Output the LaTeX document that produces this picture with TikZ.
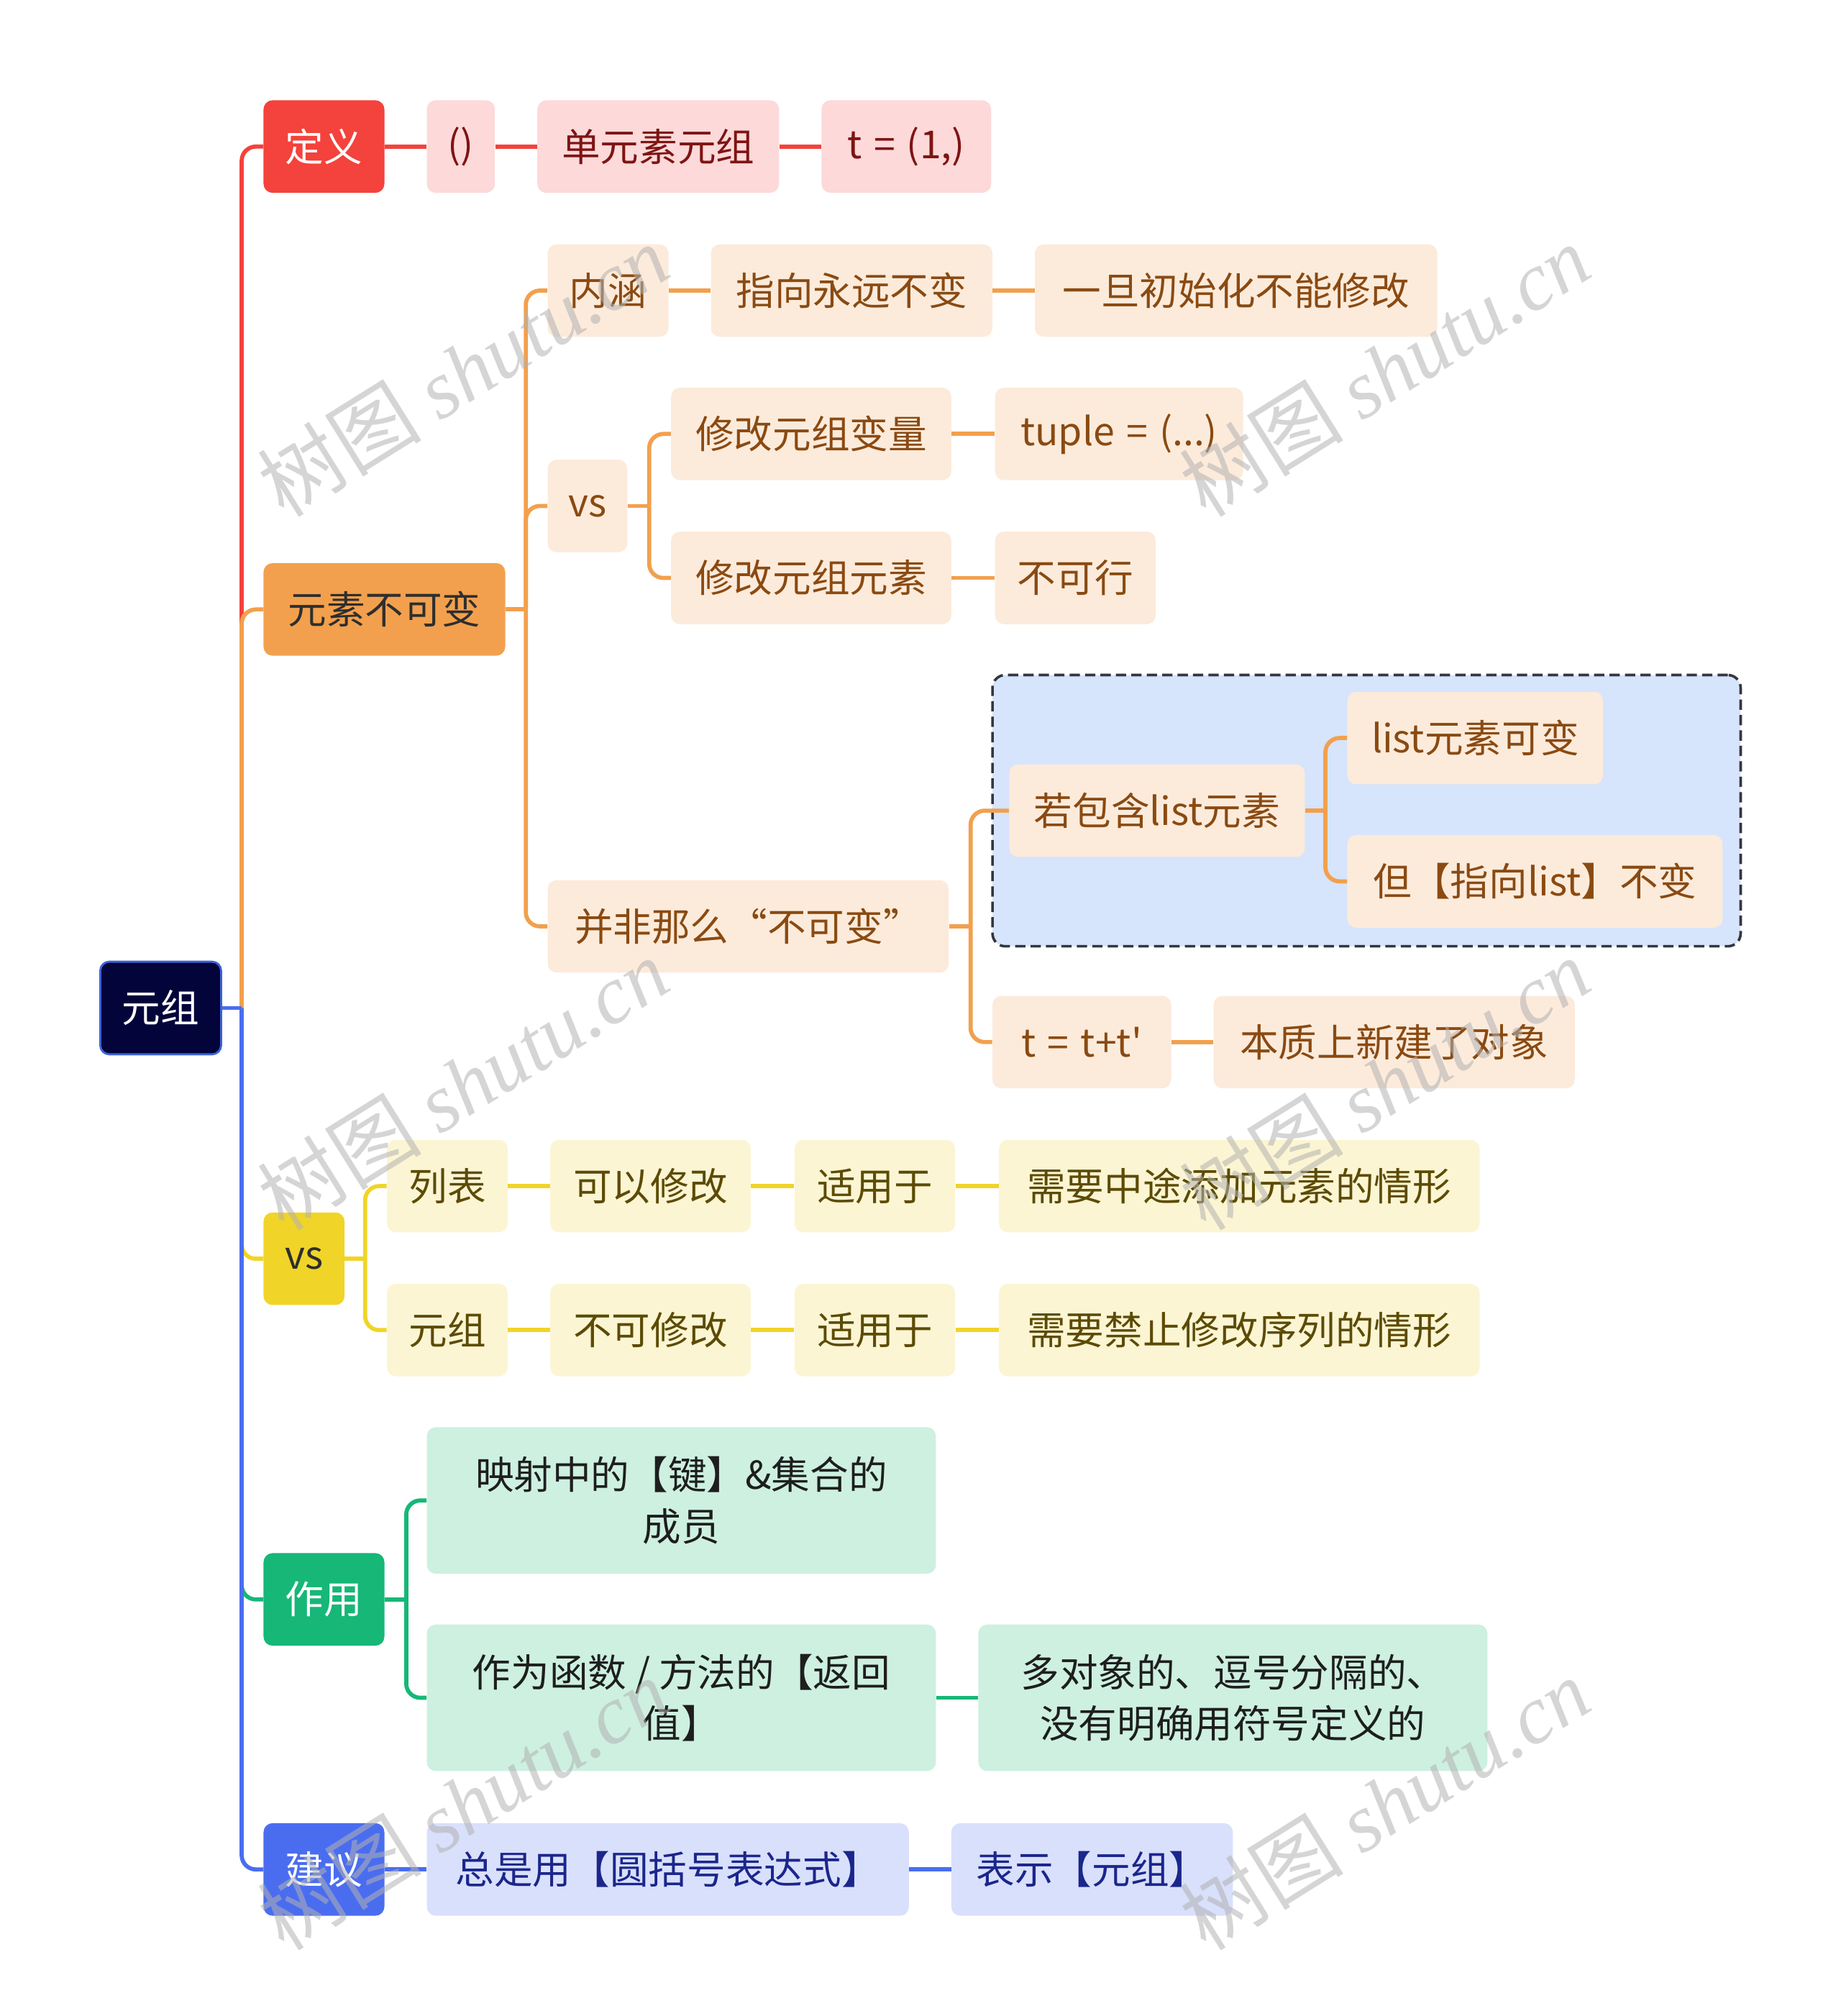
\documentclass[tikz,border=0pt]{standalone}
\usepackage{fontspec}
\setmainfont{Noto Sans CJK SC}
\newfontfamily\wmlatin{Liberation Serif}
\usetikzlibrary{positioning}
\definecolor{rootfill}{HTML}{03043A}
\definecolor{rootline}{HTML}{3C62D8}
\definecolor{cred}{HTML}{F4423C}
\definecolor{credl}{HTML}{FDD9D9}
\definecolor{credt}{HTML}{7E1414}
\definecolor{corg}{HTML}{F2A04D}
\definecolor{corgl}{HTML}{FCEBDB}
\definecolor{corgt}{HTML}{8A4A12}
\definecolor{cylw}{HTML}{F1D428}
\definecolor{cylwl}{HTML}{FCF5D3}
\definecolor{cylwt}{HTML}{5C4B05}
\definecolor{cgrn}{HTML}{16B777}
\definecolor{cgrnl}{HTML}{CDF0E1}
\definecolor{cgrnt}{HTML}{1E1E1E}
\definecolor{cblu}{HTML}{4A6DF0}
\definecolor{cblul}{HTML}{D9E0FB}
\definecolor{cblut}{HTML}{1B268C}
\definecolor{grpfill}{HTML}{D6E4FC}
\definecolor{grpline}{HTML}{33363C}
\definecolor{darktext}{HTML}{2E2E2E}
\begin{document}
\begin{tikzpicture}[
    x=1pt, y=-1pt,
    font=\fontsize{30}{40}\selectfont,
    base/.style={rectangle, rounded corners=7pt, minimum height=72pt, inner sep=0pt, align=center},
    rootbox/.style={base, fill=rootfill, draw=rootline, line width=1.6pt, text=white},
    redmain/.style={base, fill=cred, text=white},
    redsub/.style={base, fill=credl, text=credt},
    orgmain/.style={base, fill=corg, text=darktext},
    orgsub/.style={base, fill=corgl, text=corgt},
    ylwmain/.style={base, fill=cylw, text=darktext},
    ylwsub/.style={base, fill=cylwl, text=cylwt},
    grnmain/.style={base, fill=cgrn, text=white},
    grnsub/.style={base, fill=cgrnl, text=cgrnt, minimum height=114pt},
    blumain/.style={base, fill=cblu, text=white},
    blusub/.style={base, fill=cblul, text=cblut},
    groupbox/.style={rectangle, rounded corners=10pt, fill=grpfill, draw=grpline, line width=2pt, dash pattern=on 8pt off 4pt},
    link/.style={line width=3.2pt},
    branch/.style={line width=3.2pt, rounded corners=11pt},
    watermark/.style={rotate=32, text=gray!60, opacity=0.55, font=\fontsize{64}{64}\selectfont},
]
\useasboundingbox (0,0) rectangle (1432,1568);

% Dashed group (behind its nodes)
\node[groupbox, minimum width=582pt, minimum height=211pt] (grp) at (1063,630.5) {};

% Root
\node[rootbox, minimum width=94pt] (root) at (125,784) {元组};

% Main branches
\node[redmain, minimum width=94pt] (def) at (252,114) {定义};
\node[orgmain, minimum width=188pt] (imm) at (299,474) {元素不可变};
\node[ylwmain, minimum width=63pt] (vsa) at (236.5,979) {vs};
\node[grnmain, minimum width=94pt] (use) at (252,1244) {作用};
\node[blumain, minimum width=94pt] (adv) at (252,1454) {建议};

% Definition
\node[redsub, minimum width=53pt] (paren) at (358.5,114) {()};
\node[redsub, minimum width=188pt] (single) at (512,114) {单元素元组};
\node[redsub, minimum width=132pt] (tone) at (705,114) {t\hspace{9pt}=\hspace{9pt}(1,)};

% Immutable elements
\node[orgsub, minimum width=94pt] (nh) at (473,226) {内涵};
\node[orgsub, minimum width=219pt] (zxbb) at (662.5,226) {指向永远不变};
\node[orgsub, minimum width=313pt] (ydcsh) at (961.5,226) {一旦初始化不能修改};
\node[orgsub, minimum width=62pt] (vsb) at (457,393.5) {vs};
\node[orgsub, minimum width=218pt] (xgbl) at (631,337.5) {修改元组变量};
\node[orgsub, minimum width=193pt] (tplv) at (870.5,337.5) {tuple\hspace{9pt}=\hspace{9pt}(...)};
\node[orgsub, minimum width=218pt] (xgys) at (631,449.5) {修改元组元素};
\node[orgsub, minimum width=125pt] (bkx) at (836.5,449.5) {不可行};
\node[orgsub, minimum width=312pt] (bfnm) at (582,720.5) {并非那么“不可变”};
\node[orgsub, minimum width=230pt] (rbh) at (900,630.5) {若包含list元素};
\node[orgsub, minimum width=199pt] (lkb) at (1147.5,574) {list元素可变};
\node[orgsub, minimum width=292pt] (dzl) at (1194,685.5) {但【指向list】不变};
\node[orgsub, minimum width=139pt] (ttt) at (841.5,810.5) {t\hspace{9pt}=\hspace{9pt}t+t\textquotesingle};
\node[orgsub, minimum width=281pt] (bzs) at (1084.5,810.5) {本质上新建了对象};

% List vs tuple
\node[ylwsub, minimum width=94pt] (lb) at (348,922.5) {列表};
\node[ylwsub, minimum width=156pt] (kyxg) at (506,922.5) {可以修改};
\node[ylwsub, minimum width=125pt] (syya) at (680.5,922.5) {适用于};
\node[ylwsub, minimum width=374pt] (xyzt) at (964,922.5) {需要中途添加元素的情形};
\node[ylwsub, minimum width=94pt] (yz) at (348,1034.5) {元组};
\node[ylwsub, minimum width=156pt] (bkxg) at (506,1034.5) {不可修改};
\node[ylwsub, minimum width=125pt] (syyb) at (680.5,1034.5) {适用于};
\node[ylwsub, minimum width=374pt] (xyjz) at (964,1034.5) {需要禁止修改序列的情形};

% Usage
\node[grnsub, minimum width=396pt] (ysz) at (530,1167) {映射中的【键】\&集合的\\成员};
\node[grnsub, minimum width=396pt] (zwhs) at (530,1320.5) {作为函数 / 方法的【返回\\值】};
\node[grnsub, minimum width=396pt] (ddx) at (959,1320.5) {多对象的、逗号分隔的、\\没有明确用符号定义的};

% Advice
\node[blusub, minimum width=375pt] (zsy) at (519.5,1454) {总是用【圆括号表达式】};
\node[blusub, minimum width=219pt] (bsyz) at (849.5,1454) {表示【元组】};

% Junctions
\coordinate (j0) at (188,784);
\coordinate (j1) at (409,474);
\coordinate (j2) at (505,393.5);
\coordinate (j3) at (755,720.5);
\coordinate (j4) at (1031,630.5);
\coordinate (j5) at (284,979);
\coordinate (j6) at (316,1244);

% Root branches
\draw[branch, cred] (j0) |- (def.west);
\draw[branch, corg] (j0) |- (imm.west);
\draw[branch, cylw] (j0) |- (vsa.west);
\draw[branch, cgrn] (j0) |- (use.west);
\draw[branch, cblu] (j0) |- (adv.west);
\draw[link, cblu] (root.east) -- (j0);

% Definition chain
\draw[link, cred] (def) -- (paren);
\draw[link, cred] (paren) -- (single);
\draw[link, cred] (single) -- (tone);

% Immutable branches
\draw[link, corg] (imm.east) -- (j1);
\draw[branch, corg] (j1) |- (nh.west);
\draw[branch, corg] (j1) |- (vsb.west);
\draw[branch, corg] (j1) |- (bfnm.west);
\draw[link, corg] (nh) -- (zxbb);
\draw[link, corg] (zxbb) -- (ydcsh);
\draw[link, corg] (vsb.east) -- (j2);
\draw[branch, corg] (j2) |- (xgbl.west);
\draw[branch, corg] (j2) |- (xgys.west);
\draw[link, corg] (xgbl) -- (tplv);
\draw[link, corg] (xgys) -- (bkx);
\draw[link, corg] (bfnm.east) -- (j3);
\draw[branch, corg] (j3) |- (rbh.west);
\draw[branch, corg] (j3) |- (ttt.west);
\draw[link, corg] (rbh.east) -- (j4);
\draw[branch, corg] (j4) |- (lkb.west);
\draw[branch, corg] (j4) |- (dzl.west);
\draw[link, corg] (ttt) -- (bzs);

% List vs tuple branches
\draw[link, cylw] (vsa.east) -- (j5);
\draw[branch, cylw] (j5) |- (lb.west);
\draw[branch, cylw] (j5) |- (yz.west);
\draw[link, cylw] (lb) -- (kyxg);
\draw[link, cylw] (kyxg) -- (syya);
\draw[link, cylw] (syya) -- (xyzt);
\draw[link, cylw] (yz) -- (bkxg);
\draw[link, cylw] (bkxg) -- (syyb);
\draw[link, cylw] (syyb) -- (xyjz);

% Usage branches
\draw[link, cgrn] (use.east) -- (j6);
\draw[branch, cgrn] (j6) |- (ysz.west);
\draw[branch, cgrn] (j6) |- (zwhs.west);
\draw[link, cgrn] (zwhs) -- (ddx);

% Advice chain
\draw[link, cblu] (adv) -- (zsy);
\draw[link, cblu] (zsy) -- (bsyz);

% Watermarks
\foreach \wx/\wy [count=\k] in {360/288, 1077/288, 360/843, 1077/843, 360/1403, 1077/1403}
  \node[watermark] (wm\k) at (\wx,\wy) {树图 {\wmlatin\itshape shutu.cn}};

\end{tikzpicture}
\end{document}
